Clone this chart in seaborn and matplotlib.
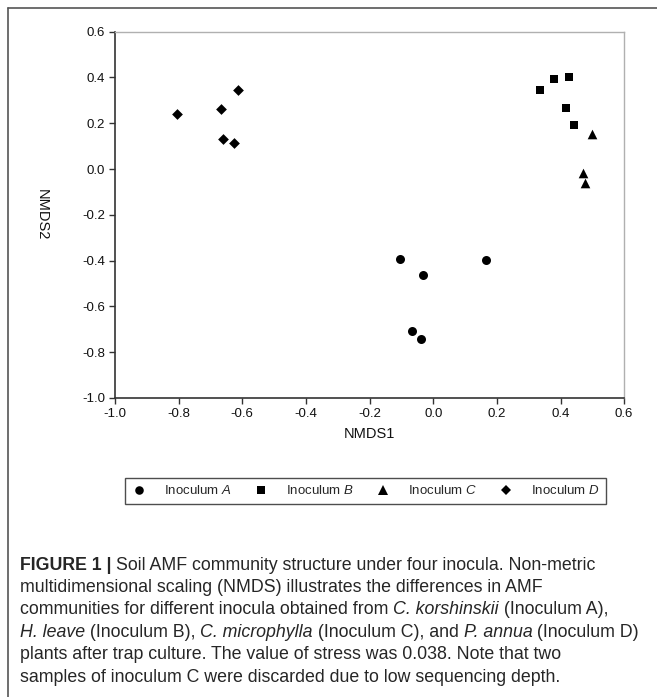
import numpy as np
import pandas as pd
import seaborn as sns
import matplotlib
matplotlib.use("Agg")
import matplotlib.pyplot as plt
from matplotlib.lines import Line2D

# NMDS scores
inoc_a_x = [-0.104, 0.167, -0.032, -0.067, -0.037]
inoc_a_y = [-0.394, -0.399, -0.464, -0.706, -0.741]
inoc_b_x = [0.337, 0.380, 0.427, 0.416, 0.441]
inoc_b_y = [0.346, 0.394, 0.400, 0.268, 0.191]
inoc_c_x = [0.499, 0.471, 0.476]
inoc_c_y = [0.152, -0.018, -0.062]
inoc_d_x = [-0.806, -0.612, -0.667, -0.661, -0.625]
inoc_d_y = [0.240, 0.344, 0.262, 0.132, 0.112]

groups = ["A", "B", "C", "D"]
legend_labels = [r"Inoculum $\it{A}$", r"Inoculum $\it{B}$",
                 r"Inoculum $\it{C}$", r"Inoculum $\it{D}$"]
xticks = [-1.0, -0.8, -0.6, -0.4, -0.2, 0.0, 0.2, 0.4, 0.6]
yticks = [-1.0, -0.8, -0.6, -0.4, -0.2, 0.0, 0.2, 0.4, 0.6]

# caption: (text, style) pieces per line
caption_lines = [
    [("FIGURE 1 | ", "bold"), ("Soil AMF community structure under four inocula. Non-metric", "normal")],
    [("multidimensional scaling (NMDS) illustrates the differences in AMF", "normal")],
    [("communities for different inocula obtained from ", "normal"), ("C. korshinskii", "italic"),
     (" (Inoculum A),", "normal")],
    [("H. leave", "italic"), (" (Inoculum B), ", "normal"), ("C. microphylla", "italic"),
     (" (Inoculum C), and ", "normal"), ("P. annua", "italic"), (" (Inoculum D)", "normal")],
    [("plants after trap culture. The value of stress was 0.038. Note that two", "normal")],
    [("samples of inoculum C were discarded due to low sequencing depth.", "normal")],
]

df = pd.DataFrame({
    "NMDS1": inoc_a_x + inoc_b_x + inoc_c_x + inoc_d_x,
    "NMDS2": inoc_a_y + inoc_b_y + inoc_c_y + inoc_d_y,
    "group": ["A"] * len(inoc_a_x) + ["B"] * len(inoc_b_x)
             + ["C"] * len(inoc_c_x) + ["D"] * len(inoc_d_x),
})

sns.set_style("white")
plt.rcParams["font.family"] = ["Liberation Sans", "DejaVu Sans"]
plt.rcParams["mathtext.fontset"] = "custom"
plt.rcParams["mathtext.rm"] = "Liberation Sans"
plt.rcParams["mathtext.it"] = "Liberation Sans:italic"
plt.rcParams["mathtext.bf"] = "Liberation Sans:bold"

W, H = 657, 697
fig = plt.figure(figsize=(W / 100, H / 100), dpi=100)
ax = fig.add_axes([0.175, 0.429, 0.775, 0.5255])

markers = {"A": "o", "B": "s", "C": "^", "D": "D"}
sizes = {"A": 42, "B": 40, "C": 48, "D": 30}
for g in groups:
    sub = df[df["group"] == g]
    sns.scatterplot(data=sub, x="NMDS1", y="NMDS2", marker=markers[g],
                    color="black", s=sizes[g], linewidth=0, ax=ax, legend=False)

ax.set_xlim(-1.0, 0.6)
ax.set_ylim(-1.0, 0.6)
ax.set_xticks(xticks)
ax.set_yticks(yticks)
ax.set_xticklabels([f"{t:.1f}" for t in xticks])
ax.set_yticklabels([f"{t:.1f}" for t in yticks])
ax.tick_params(axis="both", direction="out", length=4, width=1,
               color="#333333", labelsize=9.5, labelcolor="#111111", pad=3,
               bottom=True, left=True)
for side in ["left", "bottom"]:
    ax.spines[side].set_color("#333333")
    ax.spines[side].set_linewidth(1.2)
for side in ["top", "right"]:
    ax.spines[side].set_color("#b0b0b0")
    ax.spines[side].set_linewidth(1.0)

ax.set_xlabel("NMDS1", fontsize=10.5, color="#111111", labelpad=5)
ax.set_ylabel("NMDS2", fontsize=10.5, color="#111111", rotation=270)
ax.yaxis.set_label_coords(-0.158, 0.5)

handles = [Line2D([], [], linestyle="none", marker=markers[g], color="black",
                  markersize=np.sqrt(sizes[g]) * 0.95, markeredgewidth=0)
           for g in groups]
leg = fig.legend(handles, legend_labels, ncol=4, loc="center",
                 bbox_to_anchor=(0.5 * (125 + 606) / W, 1 - 491 / H),
                 frameon=True, fancybox=False, fontsize=9.5,
                 handletextpad=1.3, columnspacing=1.6, borderpad=0.5,
                 handlelength=1.2)
leg.get_frame().set_edgecolor("#222222")
leg.get_frame().set_linewidth(1.0)

# caption, drawn piece by piece so bold/italic can mix on a line
renderer = fig.canvas.get_renderer()
for i, pieces in enumerate(caption_lines):
    x_px = 20.0
    y = 1 - (565 + i * 22.4) / H
    for txt, style in pieces:
        t = fig.text(x_px / W, y, txt, fontsize=12.8, color="#262626",
                     ha="left", va="center",
                     fontweight="bold" if style == "bold" else "normal",
                     fontstyle="italic" if style == "italic" else "normal")
        x_px += t.get_window_extent(renderer).width

# outer frame (top and left edges visible in the crop)
fig.add_artist(Line2D([8 / W, 8 / W], [0, 1 - 8 / H],
                      transform=fig.transFigure, color="#555555", lw=1.2))
fig.add_artist(Line2D([8 / W, 1], [1 - 8 / H, 1 - 8 / H],
                      transform=fig.transFigure, color="#555555", lw=1.2))

fig.savefig("out.png", dpi=100)
